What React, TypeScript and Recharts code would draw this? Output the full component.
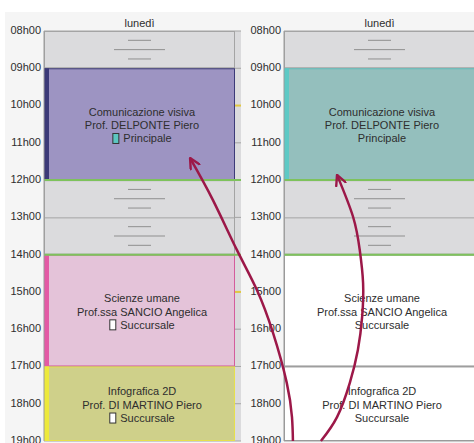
import React from "react";
import {
  BarChart,
  Bar,
  XAxis,
  YAxis,
  CartesianGrid,
  ReferenceLine,
  LineChart,
  Line,
} from "recharts";

const day = "lunedì";
const hourTicks = [8, 9, 10, 11, 12, 13, 14, 15, 16, 17, 18, 19];
const hourLabels = [
  "08h00", "09h00", "10h00", "11h00", "12h00", "13h00",
  "14h00", "15h00", "16h00", "17h00", "18h00", "19h00",
];

// one slot = one block of the day column (free hours or a lesson)
const slotStart = [8, 9, 12, 14, 17];
const slotEnd = [9, 12, 14, 17, 19];
const slotFree = [true, false, true, false, false];
const slotSubject = ["", "Comunicazione visiva", "", "Scienze umane", "Infografica 2D"];
const slotTeacher = ["", "Prof. DELPONTE Piero", "", "Prof.ssa SANCIO Angelica", "Prof. DI MARTINO Piero"];
const slotSite = ["", "Principale", "", "Succursale", "Succursale"];
const breakHours = [12, 14];
// starts of lessons in the next (hidden) day column, only their edge shows
const nextDayMarks = [10, 15];

// arrows: x in % of the picture width, h in hours
const arrowLeftX = [40.1, 44.9, 50.0, 54.2, 57.6, 60.5, 61.6, 61.8];
const arrowLeftH = [11.41, 12.53, 13.88, 14.95, 16.1, 17.44, 18.36, 19.0];
const arrowRightX = [71.1, 74.5, 75.9, 76.6, 76.4, 75.5, 73.8, 71.1, 67.7];
const arrowRightH = [11.86, 12.99, 13.88, 14.76, 15.67, 16.56, 17.44, 18.36, 19.0];

const FONT = '"Liberation Sans", Arial, sans-serif';
const TEXT = "#2e2e2e";
const GRAY_CELL = "#dbdbdd";
const GRAY_LINE = "#a4a4a4";
const GREEN = "#7ec25c";
const YELLOW = "#e2c842";
const ARROW = "#9c1848";

const leftLook = [
  null,
  { fill: "#9d94c2", border: "#3c3a78", stripe: "#3c3a78", icon: "#5cc6c0" },
  null,
  { fill: "#e4c3d9", border: "#d45c9c", stripe: "#e35aa5", icon: "#ffffff" },
  { fill: "#cfd08a", border: "#e6e04c", stripe: "#ede93c", icon: "#ffffff" },
];
const rightLook = [
  null,
  { fill: "#94bfbd", border: "#5dbfbc", stripe: "#5ec9c5", icon: null },
  null,
  { fill: "#ffffff", border: "#9a9a9a", stripe: null, icon: null },
  { fill: "#ffffff", border: "#9a9a9a", stripe: null, icon: null },
];

const row: Record<string, string | number> = { day, base: slotStart[0] };
slotStart.forEach((s, i) => {
  row["s" + i] = slotEnd[i] - s;
});
const rows = [row];

const arrowLeft = arrowLeftX.map((x, i) => ({ x, h: arrowLeftH[i] }));
const arrowRight = arrowRightX.map((x, i) => ({ x, h: arrowRightH[i] }));

let ctx: CanvasRenderingContext2D | null = null;
function textWidth(s: string) {
  if (!ctx) ctx = document.createElement("canvas").getContext("2d");
  if (!ctx) return s.length * 5.5;
  ctx.font = `11px ${FONT}`;
  return ctx.measureText(s).width;
}

function norm(p: any) {
  let { y, height } = p;
  if (height < 0) {
    y += height;
    height = -height;
  }
  return { x: p.x, y, width: p.width, height };
}

function freeShape(i: number) {
  return (p: any) => {
    const { x, y, width, height } = norm(p);
    const hours = slotEnd[i] - slotStart[i];
    const step = height / hours;
    const cx = x + width / 2;
    const parts = [];
    for (let k = 0; k < hours; k++) {
      const top = y + k * step;
      parts.push(
        <g key={k}>
          <line x1={x} x2={x + width} y1={top + 0.5} y2={top + 0.5} stroke={GRAY_LINE} />
          <line x1={cx - 11.5} x2={cx + 11.5} y1={top + step / 4} y2={top + step / 4} stroke="#8f8f8f" />
          <line x1={cx - 25.5} x2={cx + 25.5} y1={top + step / 2} y2={top + step / 2} stroke="#8f8f8f" />
          <line x1={cx - 11.5} x2={cx + 11.5} y1={top + (3 * step) / 4} y2={top + (3 * step) / 4} stroke="#8f8f8f" />
        </g>
      );
    }
    return (
      <g>
        <rect x={x + 0.5} y={y + 0.5} width={width - 1} height={height - 1} fill={GRAY_CELL} stroke={GRAY_LINE} />
        {parts}
      </g>
    );
  };
}

function lessonShape(i: number, look: any) {
  return (p: any) => {
    const { x, y, width, height } = norm(p);
    const stripeW = 5;
    const tx = x + stripeW + (width - stripeW) / 2;
    const cy = y + height / 2 + 1;
    const gap = 13.3;
    const site = slotSite[i];
    let siteNode;
    if (look.icon) {
      const tw = textWidth(site);
      const gw = 6 + 5 + tw;
      const sx = tx - gw / 2;
      siteNode = (
        <g>
          <rect x={sx + 0.5} y={cy + gap - 5} width={6} height={10} fill={look.icon} stroke="#333" />
          <text x={sx + 11} y={cy + gap} textAnchor="start" dominantBaseline="central" fill={TEXT} fontSize={11} fontFamily={FONT}>
            {site}
          </text>
        </g>
      );
    } else {
      siteNode = (
        <text x={tx} y={cy + gap} textAnchor="middle" dominantBaseline="central" fill={TEXT} fontSize={11} fontFamily={FONT}>
          {site}
        </text>
      );
    }
    return (
      <g>
        <rect x={x + 0.5} y={y + 0.5} width={width - 1} height={height - 1} fill={look.fill} stroke={look.border} />
        {look.stripe && <rect x={x} y={y} width={stripeW} height={height} fill={look.stripe} />}
        <text x={tx} y={cy - gap} textAnchor="middle" dominantBaseline="central" fill={TEXT} fontSize={11} fontFamily={FONT}>
          {slotSubject[i]}
        </text>
        <text x={tx} y={cy} textAnchor="middle" dominantBaseline="central" fill={TEXT} fontSize={11} fontFamily={FONT}>
          {slotTeacher[i]}
        </text>
        {siteNode}
      </g>
    );
  };
}

// only the right end of the line: the part that falls in the next day column
const edgeMark = (p: any) => (
  <line x1={p.x2 - 6} x2={p.x2} y1={p.y1} y2={p.y2} stroke={YELLOW} strokeWidth={2} />
);

function DayPanel({ look, width, axisWidth, padRight, marks }: any) {
  return (
    <BarChart
      width={width}
      height={431}
      data={rows}
      margin={{ top: 0, right: 0, bottom: 2, left: 0 }}
      barCategoryGap={0}
      barGap={0}
    >
      <CartesianGrid vertical={false} fill={GRAY_CELL} stroke={GRAY_LINE} />
      <XAxis
        dataKey="day"
        orientation="top"
        height={19}
        tickLine={false}
        axisLine={false}
        tickSize={0}
        tickMargin={4}
        padding={{ left: 0, right: padRight }}
        tick={{ fill: TEXT, fontSize: 11, fontFamily: FONT }}
      />
      <YAxis
        type="number"
        domain={[8, 19]}
        allowDataOverflow
        reversed
        ticks={hourTicks}
        interval={0}
        width={axisWidth}
        tickLine={false}
        tickSize={0}
        tickMargin={3}
        axisLine={{ stroke: "#9a9a9a" }}
        tickFormatter={(v: number) => hourLabels[hourTicks.indexOf(v)]}
        tick={{ fill: TEXT, fontSize: 11, fontFamily: FONT, dy: -1 }}
      />
      <Bar dataKey="base" stackId="d" isAnimationActive={false} shape={() => <g />} />
      {slotStart.map((_, i) => (
        <Bar
          key={i}
          dataKey={"s" + i}
          stackId="d"
          isAnimationActive={false}
          shape={slotFree[i] ? freeShape(i) : lessonShape(i, look[i])}
        />
      ))}
      {breakHours.map((h) => (
        <ReferenceLine key={"b" + h} y={h} stroke={GREEN} strokeWidth={2} />
      ))}
      {marks.map((h: number) => (
        <ReferenceLine key={"m" + h} y={h} stroke={YELLOW} shape={edgeMark} />
      ))}
    </BarChart>
  );
}

export default function App() {
  return (
    <div
      style={{
        position: "absolute",
        left: 0,
        top: 0,
        width: 474,
        height: 443,
        overflow: "hidden",
        background: "#ffffff",
      }}
    >
      <div style={{ position: "absolute", left: 5, top: 12, width: 236, height: 431, background: "#f5f5f5" }}>
        <DayPanel look={leftLook} width={236} axisWidth={39} padRight={6} marks={nextDayMarks} />
      </div>
      <div style={{ position: "absolute", left: 241, top: 12, width: 234, height: 431, background: "#f5f5f5" }}>
        <DayPanel look={rightLook} width={234} axisWidth={43} padRight={0} marks={[]} />
      </div>
      <div style={{ position: "absolute", left: 0, top: 0, pointerEvents: "none" }}>
        <LineChart width={474} height={443} margin={{ top: 31, right: 0, bottom: 2, left: 0 }}>
          <defs>
            <marker
              id="arrowHead"
              viewBox="0 0 12 12"
              refX={11}
              refY={6}
              markerWidth={12}
              markerHeight={12}
              markerUnits="userSpaceOnUse"
              orient="auto-start-reverse"
            >
              <path d="M1,1 L11,6 L1,11" fill="none" stroke={ARROW} strokeWidth={2.4} strokeLinecap="round" strokeLinejoin="round" />
            </marker>
          </defs>
          <XAxis type="number" dataKey="x" domain={[0, 100]} hide />
          <YAxis type="number" domain={[8, 19]} reversed hide />
          <Line
            data={arrowLeft}
            dataKey="h"
            type="natural"
            stroke={ARROW}
            strokeWidth={2.5}
            dot={false}
            markerStart="url(#arrowHead)"
            isAnimationActive={false}
          />
          <Line
            data={arrowRight}
            dataKey="h"
            type="natural"
            stroke={ARROW}
            strokeWidth={2.5}
            dot={false}
            markerStart="url(#arrowHead)"
            isAnimationActive={false}
          />
        </LineChart>
      </div>
    </div>
  );
}
